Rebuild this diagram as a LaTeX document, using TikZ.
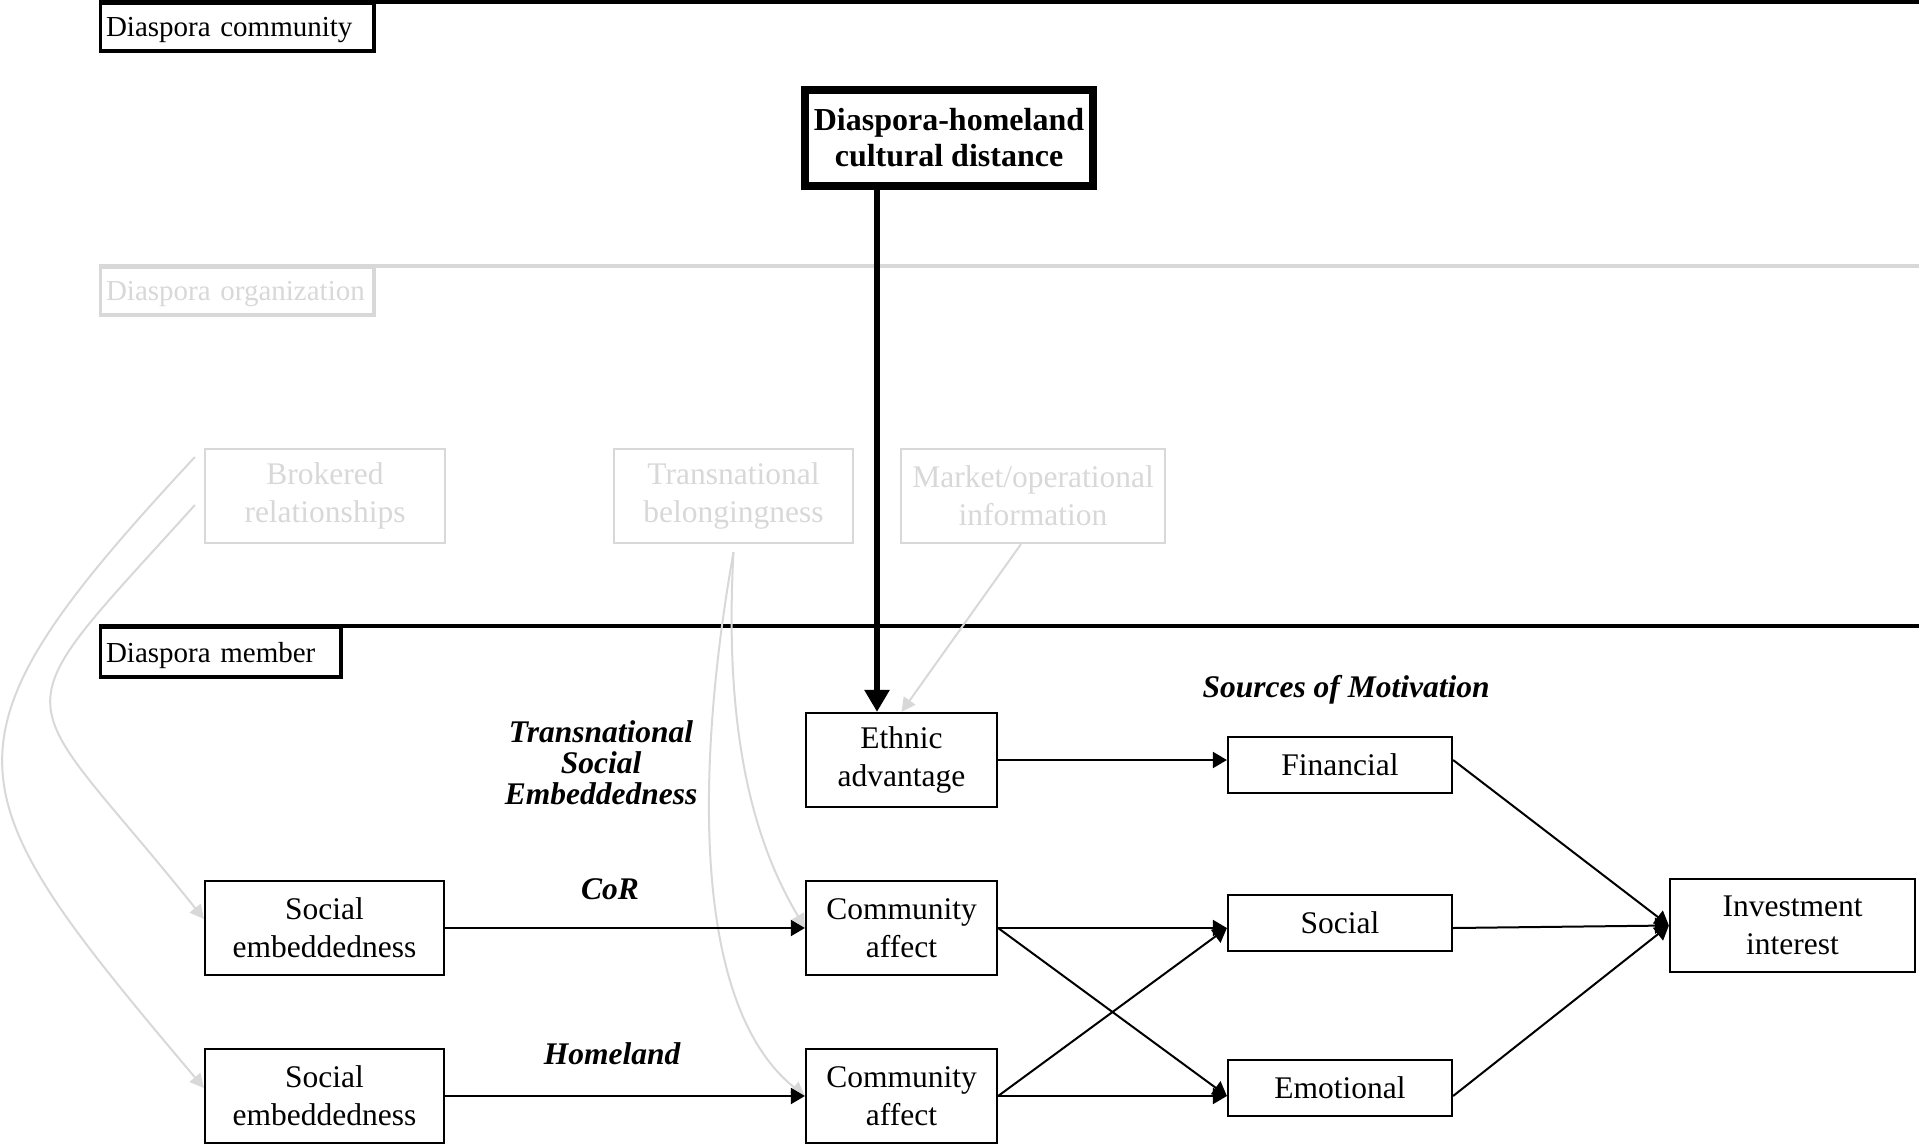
\documentclass[tikz,border=0pt]{standalone}
\usepackage{fontspec}
\setmainfont{Liberation Serif}
\usetikzlibrary{arrows.meta,calc}
\definecolor{lg}{RGB}{216,216,216}
\begin{document}
\begin{tikzpicture}[x=1pt,y=-1pt,
 box/.style={draw, line width=2.2pt, align=center, inner sep=0pt, font=\fontsize{31.5}{38}\selectfont},
 gbox/.style={box, draw=lg, text=lg},
 lbl/.style={draw, line width=3.5pt, anchor=north west, inner xsep=5.5pt, inner ysep=0pt, align=left, text depth=0pt, font=\fontsize{29}{33}\selectfont},
 arr/.style={line width=2pt, -{Triangle[length=14pt,width=16pt]}},
 garr/.style={draw=lg, line width=2pt, -{Triangle[length=14pt,width=14pt]}},
 bigarr/.style={line width=6.5pt, -{Triangle[length=22pt,width=24pt]}},
 emphlbl/.style={font=\fontsize{31.5}{31}\selectfont\bfseries\itshape, align=center, inner sep=0pt}
]
\useasboundingbox (0,0) rectangle (1919,1146);

% level labels and separator lines
\node[lbl, minimum width=273.5pt, minimum height=47.5pt, text width=262.5pt] (dc) at (98.75,1.75) {Diaspora community};
\node[lbl, draw=lg, text=lg, minimum width=273.5pt, minimum height=47.5pt, text width=262.5pt] (dorg) at (98.75,265.75) {Diaspora organization};
\node[lbl, minimum width=240.5pt, minimum height=49.5pt, text width=229.5pt] (dm) at (98.75,625.75) {Diaspora member};
\draw[line width=3.5pt] (dc.north west) -- (1919,1.75);
\draw[lg, line width=3.5pt] (dorg.north west) -- (1919,265.75);
\draw[line width=3.5pt] (dm.north west) -- (1919,625.75);

% organization level (gray)
\node[gbox, minimum width=240pt, minimum height=94pt] (brok) at (325,496) {Brokered\\relationships};
\node[gbox, minimum width=239pt, minimum height=94pt] (tb) at (733.5,496) {Transnational\\belongingness};
\node[gbox, minimum width=264pt, minimum height=94pt] (mk) at (1033,496) {Market/operational\\information};

% member level
\node[box, minimum width=191pt, minimum height=94pt] (ea) at (901.5,760) {Ethnic\\advantage};
\node[box, minimum width=239pt, minimum height=94pt] (se1) at (324.5,928) {Social\\embeddedness};
\node[box, minimum width=239pt, minimum height=94pt] (se2) at (324.5,1096) {Social\\embeddedness};
\node[box, minimum width=191pt, minimum height=94pt] (ca1) at (901.5,928) {Community\\affect};
\node[box, minimum width=191pt, minimum height=94pt] (ca2) at (901.5,1096) {Community\\affect};
\node[box, minimum width=224pt, minimum height=56pt] (fin) at (1340,765) {Financial};
\node[box, minimum width=224pt, minimum height=56pt] (soc) at (1340,923) {Social};
\node[box, minimum width=224pt, minimum height=56pt] (emo) at (1340,1088) {Emotional};
\node[box, minimum width=245pt, minimum height=93pt] (inv) at (1792.5,925.5) {Investment\\interest};

% labels
\node[emphlbl] (tse) at (601,763) {Transnational\\Social\\Embeddedness};
\node[emphlbl, anchor=base] (cor) at (610,899) {CoR};
\node[emphlbl, anchor=base] (home) at (612,1064) {Homeland};
\node[emphlbl, anchor=base] (som) at (1346,697) {Sources of Motivation};

% gray connectors
\draw[garr] ([xshift=-9pt,yshift=39pt]brok.west) .. controls (-74,746) and (-50,787) .. ([yshift=8pt]se2.west);
\draw[garr] ([xshift=-9pt,yshift=-9pt]brok.west) .. controls (-8,730) and (12,679) .. ([yshift=9pt]se1.west);
\draw[garr] ([yshift=-8pt]tb.south) .. controls (722,760) and (765,860) .. (ca1.west);
\draw[garr] ([yshift=-8pt]tb.south) .. controls (700,740) and (685,1000) .. (ca2.west);
\draw[garr] ([xshift=-12pt]mk.south) -- (ea.north);

% community level
\node[box, line width=8pt, minimum width=288pt, minimum height=96pt, font=\fontsize{32}{36}\selectfont\bfseries] (cd) at (949,138) {Diaspora-homeland\\cultural distance};
\coordinate (dx) at (877,0);
\draw[bigarr] (cd.south -| dx) -- (ea.north -| dx);

% black connectors
\draw[arr] (ea.east) -- (ea.east -| fin.west);
\draw[arr] (se1.east) -- (ca1.west);
\draw[arr] (se2.east) -- (ca2.west);
\draw[arr] (ca1.east) -- (ca1.east -| soc.west);
\draw[arr] (ca1.east) -- (ca2.east -| emo.west);
\draw[arr] (ca2.east) -- (ca1.east -| soc.west);
\draw[arr] (ca2.east) -- (ca2.east -| emo.west);
\draw[arr] (ea.east -| fin.east) -- (inv.west);
\draw[arr] (ca1.east -| soc.east) -- (inv.west);
\draw[arr] (ca2.east -| emo.east) -- (inv.west);
\end{tikzpicture}
\end{document}
